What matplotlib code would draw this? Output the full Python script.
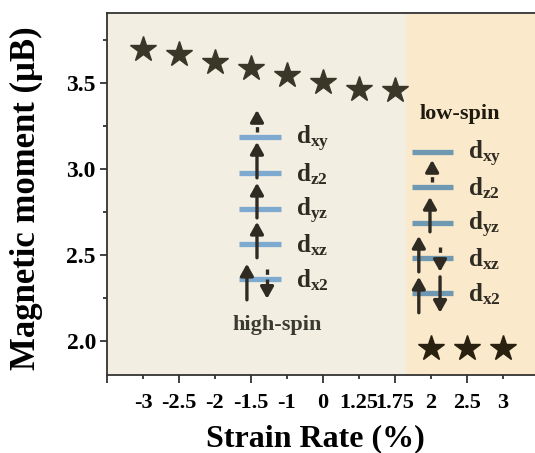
import matplotlib
matplotlib.use("Agg")
import matplotlib.pyplot as plt
from matplotlib.ticker import FixedLocator, FixedFormatter

plt.rcParams['font.family'] = ['Liberation Serif', 'DejaVu Serif']
plt.rcParams['font.weight'] = 'bold'
plt.rcParams['mathtext.fontset'] = 'custom'
plt.rcParams['mathtext.rm'] = 'Liberation Serif:bold'
plt.rcParams['mathtext.it'] = 'Liberation Serif:bold'
plt.rcParams['mathtext.bf'] = 'Liberation Serif:bold'

# ---- data ----
strain_labels = ['-3', '-2.5', '-2', '-1.5', '-1', '0', '1.25', '1.75', '2', '2.5', '3']
high_spin_idx = [0, 1, 2, 3, 4, 5, 6, 7]
high_spin_moment = [3.70, 3.67, 3.62, 3.585, 3.545, 3.505, 3.465, 3.46]
low_spin_idx = [8, 9, 10]
low_spin_moment = [1.96, 1.96, 1.96]
orbitals = ['xy', 'z2', 'yz', 'xz', 'x2']
high_levels = [3.186, 2.977, 2.767, 2.564, 2.360]
low_levels = [3.099, 2.895, 2.686, 2.483, 2.279]
yticks = [2.0, 2.5, 3.0, 3.5]
yminor = [2.25, 2.75, 3.25, 3.75]

dark = '#2f2b22'
fig = plt.figure(figsize=(5.35, 4.53), dpi=100)
ax = fig.add_axes([0.2, 0.172, 0.80, 0.799])

xmin, xmax = -1, 10.9
split = 7.3
ax.axvspan(xmin, split, color='#f2eee2', zorder=0, lw=0)
ax.axvspan(split, xmax, color='#fae9cb', zorder=0, lw=0)

ax.plot(high_spin_idx, high_spin_moment, ls='none', marker='*', ms=19,
        color='#3a3628', zorder=3)
ax.plot(low_spin_idx, low_spin_moment, ls='none', marker='*', ms=19,
        color='#2a2010', zorder=3)

ax.set_xlim(xmin, xmax)
ax.set_ylim(1.80, 3.907)

# x ticks: long ticks at odd positions, short ticks (labelled) at category positions
ax.xaxis.set_major_locator(FixedLocator([-1, 1, 3, 5, 7, 9]))
ax.xaxis.set_major_formatter(FixedFormatter(['', strain_labels[1], strain_labels[3],
                                             strain_labels[5], strain_labels[7], strain_labels[9]]))
ax.xaxis.set_minor_locator(FixedLocator([0, 2, 4, 6, 8, 10]))
ax.xaxis.set_minor_formatter(FixedFormatter([strain_labels[i] for i in [0, 2, 4, 6, 8, 10]]))
ax.set_yticks(yticks)
ax.set_yticklabels([f'{v:.1f}' for v in yticks])
ax.yaxis.set_minor_locator(FixedLocator(yminor))

ax.tick_params(axis='x', which='major', length=6, width=1.3, labelsize=16, pad=7, color='#333333')
ax.tick_params(axis='x', which='minor', length=3, width=1.3, labelsize=16, pad=10, color='#333333')
ax.tick_params(axis='y', which='major', length=5, width=1.3, labelsize=17, pad=3, color='#333333')
ax.tick_params(axis='y', which='minor', length=3, width=1.3, color='#333333')
for lab in ax.get_xticklabels(which='both') + ax.get_yticklabels():
    lab.set_fontweight('bold')

for s in ['left', 'top', 'bottom']:
    ax.spines[s].set_linewidth(1.3)
    ax.spines[s].set_color('#333333')
ax.spines['right'].set_visible(False)

ax.set_xlabel('Strain Rate (%)', fontsize=23, fontweight='bold')
ax.xaxis.set_label_coords(0.488, -0.135)
ax.set_ylabel('Magnetic moment (\u03bcB)', fontsize=25, fontweight='bold')
ax.yaxis.set_label_coords(-0.15, 0.49)

# ---- energy level diagrams ----
hx0, hx1, hlab = 2.67, 3.84, 4.25
lx0, lx1, llab = 7.48, 8.62, 9.04
for name, y in zip(orbitals, high_levels):
    ax.plot([hx0, hx1], [y, y], color='#7eaad0', lw=3.8, solid_capstyle='butt', zorder=2)
    ax.text(hlab, y - 0.01, r'd$_{\mathrm{%s}}$' % name, fontsize=18, fontweight='bold',
            color=dark, va='center', ha='left')
for name, y in zip(orbitals, low_levels):
    ax.plot([lx0, lx1], [y, y], color='#6f99b2', lw=3.8, solid_capstyle='butt', zorder=2)
    ax.text(llab, y - 0.01, r'd$_{\mathrm{%s}}$' % name, fontsize=18, fontweight='bold',
            color=dark, va='center', ha='left')

ax.text(3.73, 2.093, 'high-spin', fontsize=16, fontweight='bold', color='#3a3a30',
        ha='center', va='center')
ax.text(8.81, 3.32, 'low-spin', fontsize=16, fontweight='bold', color='#1f1a10',
        ha='center', va='center')


def solid_arrow(x, y0, y1):
    ax.annotate('', xy=(x, y1), xytext=(x, y0),
                arrowprops=dict(arrowstyle='-|>,head_length=0.5,head_width=0.28', lw=2.4,
                                color=dark, shrinkA=0, shrinkB=0, mutation_scale=14),
                zorder=4)


def dotted_arrow(x, y0, y1):
    d = 0.05 if y1 > y0 else -0.05
    ax.plot([x, x], [y0, y1 - d], color=dark, lw=2.4, ls=(0, (1.6, 1.4)), zorder=4)
    ax.annotate('', xy=(x, y1), xytext=(x, y1 - d),
                arrowprops=dict(arrowstyle='-|>,head_length=0.5,head_width=0.28', lw=2.4,
                                color=dark, shrinkA=0, shrinkB=0, mutation_scale=14),
                zorder=4)


# high-spin arrows
dotted_arrow(3.17, 3.215, 3.343)
solid_arrow(3.17, 2.948, 3.157)
solid_arrow(3.17, 2.715, 2.919)
solid_arrow(3.17, 2.483, 2.692)
solid_arrow(2.89, 2.238, 2.448)
dotted_arrow(3.45, 2.419, 2.244)
# low-spin arrows
dotted_arrow(8.04, 2.924, 3.052)
solid_arrow(7.98, 2.634, 2.837)
solid_arrow(7.67, 2.401, 2.610)
dotted_arrow(8.26, 2.547, 2.401)
solid_arrow(7.67, 2.163, 2.372)
solid_arrow(8.26, 2.372, 2.163)

fig.savefig('out.png', dpi=100)
